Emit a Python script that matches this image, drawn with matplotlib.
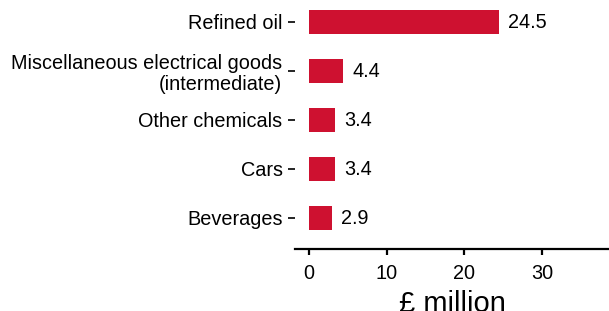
import matplotlib
matplotlib.use("Agg")
import matplotlib.pyplot as plt

categories = ["Beverages", "Cars", "Other chemicals",
              "Miscellaneous electrical goods\n(intermediate)", "Refined oil"]
values = [2.9, 3.4, 3.4, 4.4, 24.5]
value_labels = ["2.9", "3.4", "3.4", "4.4", "24.5"]
x_ticks = [0, 10, 20, 30]

plt.rcParams['font.family'] = ['Liberation Sans', 'DejaVu Sans']

fig = plt.figure(figsize=(6.09, 3.11), dpi=100)
ax = fig.add_axes([295/609, 1 - 249/311, 1 - 295/609, 249/311])

ypos = list(range(len(categories)))
ax.barh(ypos, values, height=0.5, color='#CE1130')
for y, v, lab in zip(ypos, values, value_labels):
    ax.annotate(lab, (v, y), xytext=(6.5, -0.5), textcoords='offset points',
                va='center', ha='left', fontsize=14.3, color='black')

ax.set_yticks(ypos)
ax.set_yticklabels(categories, fontsize=14.3, linespacing=1.12)
ax.set_xticks(x_ticks)
ax.set_xticklabels([str(t) for t in x_ticks], fontsize=14.3)
ax.set_xlim(-1.8, 38.6)
ax.set_ylim(-0.633, 4.449)

for s in ['top', 'right', 'left']:
    ax.spines[s].set_visible(False)
ax.spines['bottom'].set_linewidth(1.6)
ax.tick_params(axis='y', length=5, width=1.2, pad=4)
ax.tick_params(axis='x', length=4, width=1.6, pad=6.5)
ax.set_xlabel("£ million", fontsize=21, labelpad=5.5)

fig.savefig("out.png", dpi=100)
